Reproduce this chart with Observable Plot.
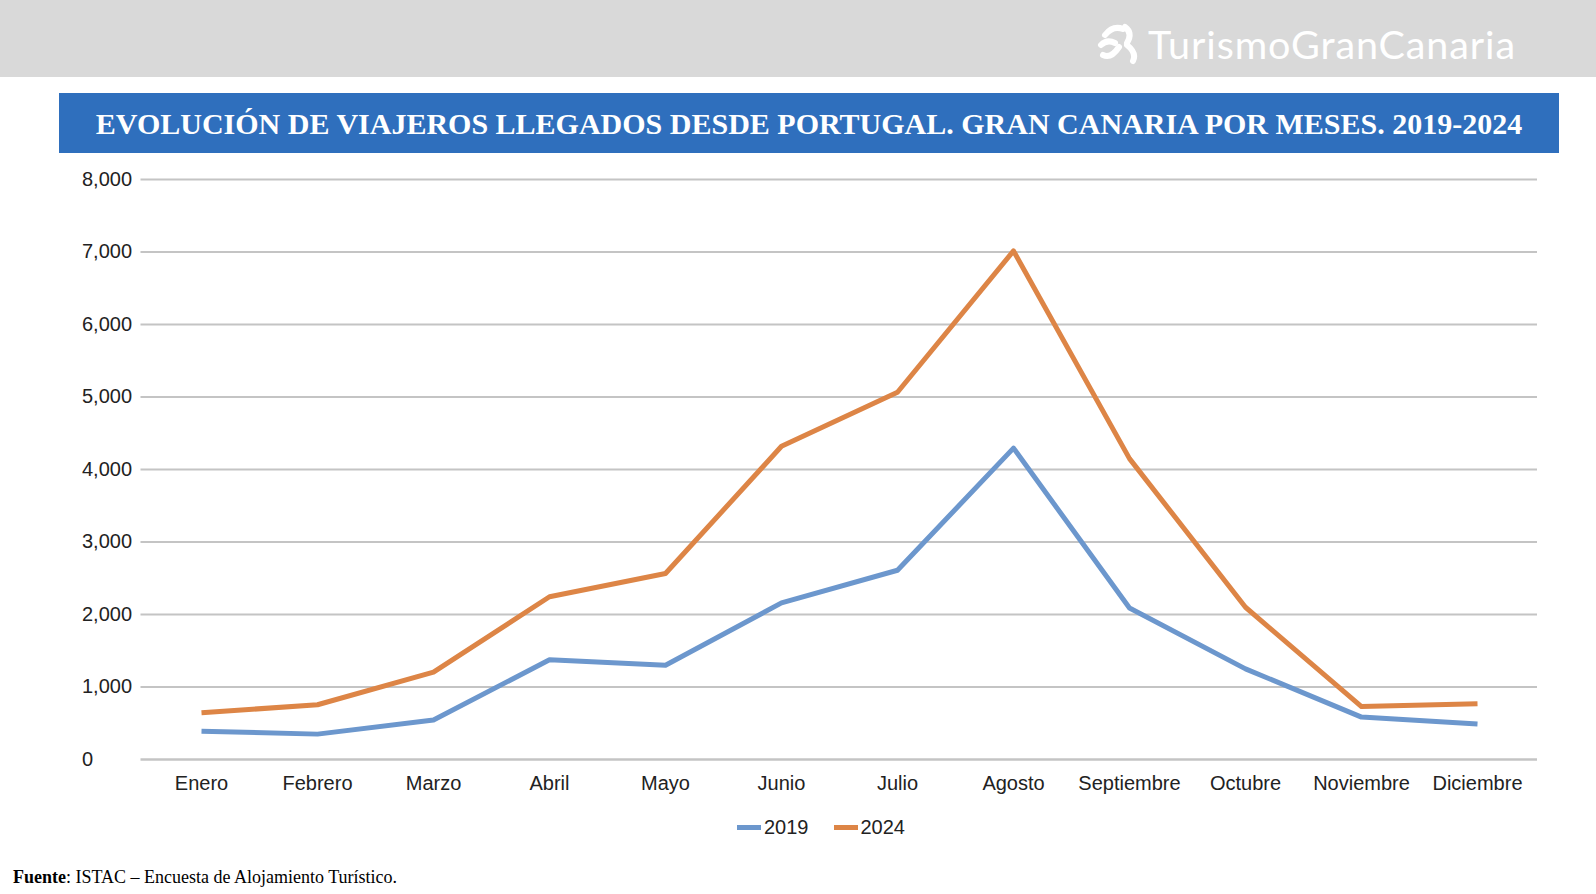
<!DOCTYPE html>
<html><head><meta charset="utf-8">
<script src="https://cdn.jsdelivr.net/npm/d3@7"></script>
<script src="https://cdn.jsdelivr.net/npm/@observablehq/plot@0.6"></script>
<style>
html,body{margin:0;padding:0;background:#fff;}
body{width:1596px;height:894px;position:relative;overflow:hidden;font-family:"Liberation Sans",Arial,sans-serif;}
#header{position:absolute;left:0;top:0;width:1596px;height:77px;background:#d9d9d9;}
#logo{position:absolute;left:1097px;top:21px;height:44px;display:flex;align-items:center;color:#fff;font-family:"Lato","Open Sans",sans-serif;font-size:39.5px;letter-spacing:0.9px;}
#title{position:absolute;left:59px;top:93px;width:1500px;height:60px;background:#2f6fbd;color:#fff;font-family:"Liberation Serif","Times New Roman",serif;font-weight:bold;font-size:30px;display:flex;align-items:center;justify-content:center;padding-top:2px;box-sizing:border-box;}
#chart{position:absolute;left:0;top:163px;}
#legend{position:absolute;left:737px;top:816px;display:flex;font-size:20px;color:#222;}
.item{display:flex;align-items:center;margin-right:25px;}
.sw{width:24px;height:5px;margin-right:3px;}
#footer{position:absolute;left:13px;top:867px;font-family:"Liberation Serif","Times New Roman",serif;font-size:18px;color:#000;}
</style></head>
<body>
<div id="header"><div id="logo"><svg width="46" height="44" viewBox="0 0 46 44" style="margin-right:5px"><g fill="none" stroke="#fff" stroke-width="6" stroke-linecap="round"><path d="M8 14 Q16 4 26 8"/><path d="M28 6 Q36 12 30 22"/><path d="M30 24 Q40 32 36 40"/><path d="M22 26 Q14 38 6 34"/><path d="M18 22 Q10 18 4 24"/></g></svg>TurismoGranCanaria</div></div>
<div id="title">EVOLUCIÓN DE VIAJEROS LLEGADOS DESDE PORTUGAL. GRAN CANARIA POR MESES. 2019-2024</div>
<div id="chart"></div>
<div id="legend"></div>
<div id="footer"><b>Fuente</b>: ISTAC – Encuesta de Alojamiento Turístico.</div>
<script>
const months = ["Enero","Febrero","Marzo","Abril","Mayo","Junio","Julio","Agosto","Septiembre","Octubre","Noviembre","Diciembre"];
const v2019 = [390, 350, 545, 1375, 1300, 2160, 2610, 4295, 2090, 1250, 585, 490];
const v2024 = [645, 755, 1205, 2245, 2565, 4320, 5065, 7015, 4150, 2100, 730, 770];
const years = ["2019","2024"];
const colors = ["#6c97cd","#dd8546"];
const yTicks = [0,1000,2000,3000,4000,5000,6000,7000,8000];

const data = [];
months.forEach((m,i)=>{ data.push({month:m, year:"2019", value:v2019[i]}); data.push({month:m, year:"2024", value:v2024[i]}); });

const plot = Plot.plot({
  width: 1596, height: 638,
  marginLeft: 140.5, marginRight: 59, marginTop: 16, marginBottom: 42,
  style: {fontFamily: '"Liberation Sans", Arial, sans-serif', fontSize: "20px", color: "#222", background: "transparent"},
  x: {type: "point", domain: months, padding: 0.5, label: null, tickSize: 0, tickPadding: 16},
  y: {domain: [0, 8000], label: null},
  color: {domain: years, range: colors},
  marks: [
    Plot.axisY({ticks: yTicks, tickFormat: d3.format(","), tickSize: 0, tickPadding: 59, textAnchor: "start", label: null}),
    Plot.gridY(yTicks.filter(d=>d>0), {stroke: "#c4c4c4", strokeOpacity: 1, strokeWidth: 2}),
    Plot.ruleY([0], {stroke: "#c4c4c4", strokeWidth: 2.5}),
    Plot.line(data, {x: "month", y: "value", z: "year", stroke: "year", strokeWidth: 5, strokeLinejoin: "round", strokeLinecap: "butt"})
  ]
});
document.getElementById("chart").appendChild(plot);

const leg = document.getElementById("legend");
years.forEach((y,i)=>{
  const it = document.createElement("div"); it.className="item";
  const sw = document.createElement("div"); sw.className="sw"; sw.style.background = colors[i];
  const t = document.createElement("span"); t.textContent = y;
  it.appendChild(sw); it.appendChild(t); leg.appendChild(it);
});
</script>
</body></html>
